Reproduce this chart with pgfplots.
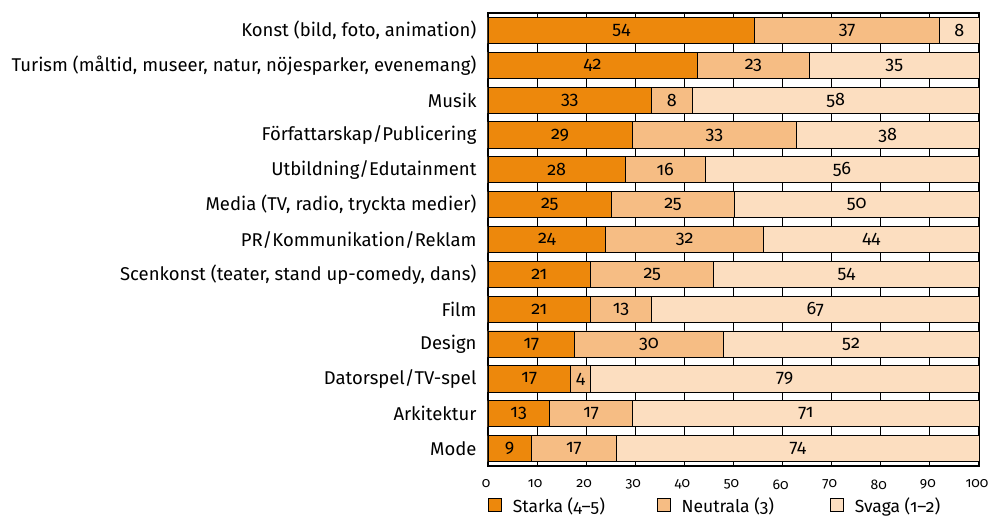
\documentclass[border=0pt]{standalone}
\usepackage{pgfplots}
\pgfplotsset{compat=1.18}
\usepackage{pgfplotstable}
\usepackage{fontspec}
\setmainfont{Fira Sans}[Numbers=OldStyle]
\definecolor{starka}{RGB}{237,136,12}
\definecolor{neutrala}{RGB}{246,189,132}
\definecolor{svaga}{RGB}{252,222,192}
\pgfplotstableread{
y s n w ls ln lw
0 54.3 37.7 8.0 54 37 8
1 42.6 22.9 34.5 42 23 35
2 33.3 8.3 58.4 33 8 58
3 29.4 33.4 37.2 29 33 38
4 28.0 16.2 55.8 28 16 56
5 25.2 25.0 49.8 25 25 50
6 24.0 32.1 43.9 24 32 44
7 20.9 25.1 54.0 21 25 54
8 20.9 12.4 66.7 21 13 67
9 17.7 30.2 52.1 17 30 52
10 16.8 4.1 79.1 17 4 79
11 12.5 17.0 70.5 13 17 71
12 8.8 17.4 73.8 9 17 74
}\data
\begin{document}
\begin{tikzpicture}
\begin{axis}[
  name=ax,
  scale only axis,
  width=491bp, height=453bp,
  xmin=0, xmax=100,
  ymin=-0.5, ymax=12.5,
  y dir=reverse,
  xtick={0,10,...,100},
  ytick={0,...,12},
  yticklabels={{Konst (bild, foto, animation)},
    {Turism (måltid, museer, natur, nöjesparker, evenemang)},
    Musik, Författarskap/Publicering, Utbildning/Edutainment,
    {Media (TV, radio, tryckta medier)}, PR/Kommunikation/Reklam,
    {Scenkonst (teater, stand up-comedy, dans)}, Film, Design,
    Datorspel/TV-spel, Arkitektur, Mode},
  major tick length=0pt,
  xmajorgrids,
  major grid style={black, line width=0.9bp},
  axis line style={black, line width=1.1bp},
  yticklabel style={font=\fontsize{18.5bp}{21bp}\selectfont, xshift=-8bp},
  xticklabel style={font=\fontsize{14bp}{17bp}\selectfont, yshift=-10bp, xshift=-2bp},
  /pgf/number format/assume math mode=true,
  legend style={at={(0,-0.087)}, anchor=west, draw=none, fill=none,
    legend columns=3, inner sep=0pt,
    font=\fontsize{17.5bp}{20bp}\selectfont,
    /tikz/column 2/.style={column sep=50bp},
    /tikz/column 4/.style={column sep=54bp}},
  legend cell align=left,
  legend image code/.code={\draw[#1, line width=0.9bp] (0bp,-6.5bp) rectangle (13bp,6.5bp); \path (22bp,0bp);},
  every node near coord/.append style={anchor=center, inner sep=0pt, font=\fontsize{18bp}{21bp}\selectfont, text=black},
]
\addlegendimage{fill=starka, draw=black}
\addlegendentry{Starka (4–5)}
\addlegendimage{fill=neutrala, draw=black}
\addlegendentry{Neutrala (3)}
\addlegendimage{fill=svaga, draw=black}
\addlegendentry{Svaga (1–2)}
\addplot[xbar, bar shift=0pt, bar width=0.75, fill=svaga, draw=black, line width=0.9bp, forget plot]
  table[x expr=\thisrow{s}+\thisrow{n}+\thisrow{w}, y=y]{\data};
\addplot[xbar, bar shift=0pt, bar width=0.75, fill=neutrala, draw=black, line width=0.9bp, forget plot]
  table[x expr=\thisrow{s}+\thisrow{n}, y=y]{\data};
\addplot[xbar, bar shift=0pt, bar width=0.75, fill=starka, draw=black, line width=0.9bp, forget plot]
  table[x=s, y=y]{\data};
\addplot[only marks, mark=none, forget plot, nodes near coords, point meta=explicit symbolic]
  table[x expr=\thisrow{s}/2, y=y, meta=ls]{\data};
\addplot[only marks, mark=none, forget plot, nodes near coords, point meta=explicit symbolic]
  table[x expr=\thisrow{s}+\thisrow{n}/2, y=y, meta=ln]{\data};
\addplot[only marks, mark=none, forget plot, nodes near coords, point meta=explicit symbolic]
  table[x expr=\thisrow{s}+\thisrow{n}+\thisrow{w}/2, y=y, meta=lw]{\data};
\end{axis}
\pgfresetboundingbox
\path (ax.south west) ++(-488bp,-51bp) rectangle ++(989bp,517bp);
\end{tikzpicture}
\end{document}
